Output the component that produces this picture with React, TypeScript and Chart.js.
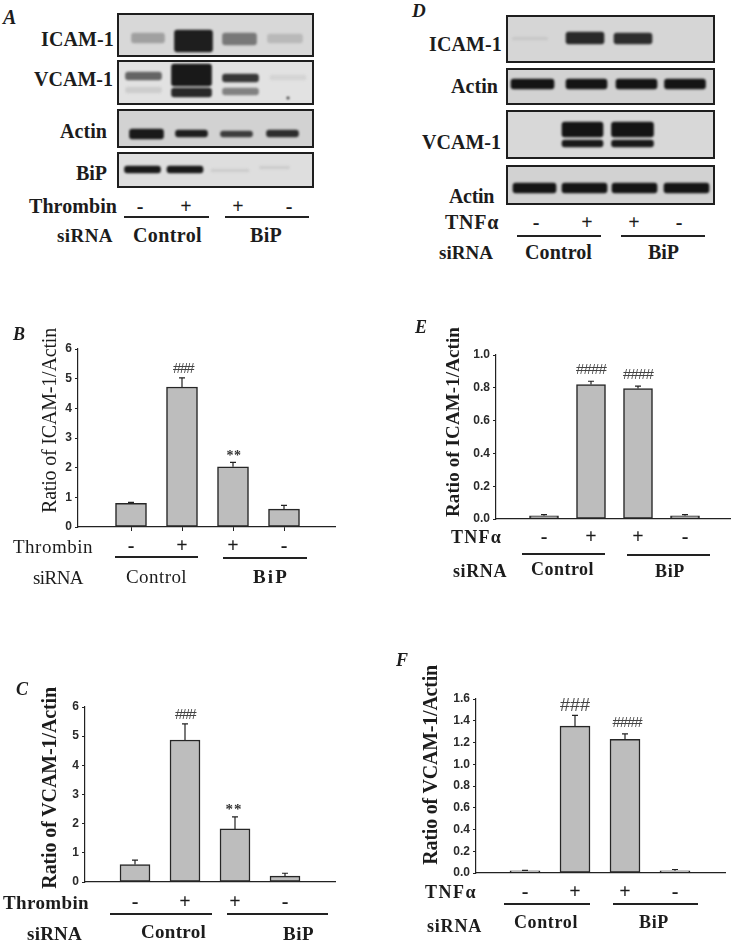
import React, { useEffect, useRef } from "react";
import { Chart, registerables } from "chart.js";

Chart.register(...registerables);

// ---------- bar chart data ----------
const signsThrombin = ["-", "+", "+", "-"];
const signsTnf = ["-", "+", "+", "-"];

const icamThrombin = [0.8, 4.72, 2.03, 0.6];
const icamThrombinTop = [0.83, 5.03, 2.18, 0.73];
const vcamThrombin = [0.6, 4.87, 1.82, 0.2];
const vcamThrombinTop = [0.75, 5.42, 2.23, 0.3];
const icamTnf = [0.02, 0.82, 0.795, 0.02];
const icamTnfTop = [0.027, 0.84, 0.81, 0.027];
const vcamTnf = [0.02, 1.35, 1.23, 0.02];
const vcamTnfTop = [0.024, 1.45, 1.28, 0.032];

// ---------- blot bands: lane, top, bottom, width, grey level ----------
const blotAIcam = [[31, 20, 30, 33, 160], [76.5, 17, 39, 38, 30], [122.5, 20, 32, 34, 120], [168, 21, 30, 35, 185]];
const blotAVcam = [
  [26.5, 12, 20, 36, 100], [26.5, 27, 33, 36, 205], [74.5, 4, 26, 40, 25], [74.5, 28, 37, 40, 40],
  [123.5, 14, 22, 36, 55], [123.5, 28, 35, 36, 130], [171, 15, 20, 36, 212], [171, 37, 39, 2, 30],
];
const blotAActin = [[29.5, 20, 30, 34, 25], [74.5, 21, 28, 32, 30], [119.5, 22, 28, 32, 60], [165.5, 21, 28, 32, 45]];
const blotABip = [[25.5, 14, 21, 36, 25], [68, 14, 21, 36, 25], [113, 17, 20, 38, 205], [157.5, 14, 17, 30, 205]];
const blotDIcam = [[24, 22, 25, 35, 200], [79, 17, 29, 38, 40], [127, 18, 29, 38, 45]];
const blotDActin1 = [[26.5, 11, 21, 43, 20], [80.5, 11, 21, 41, 20], [130.5, 11, 21, 41, 20], [179, 11, 21, 41, 20]];
const blotDVcam = [[76.5, 12, 27, 41, 20], [76.5, 30, 37, 41, 25], [126.5, 12, 27, 42, 20], [126.5, 30, 37, 42, 25]];
const blotDActin2 = [[28.5, 18, 28, 43, 20], [78.5, 18, 28, 45, 20], [128.5, 18, 28, 45, 20], [180.5, 18, 28, 45, 20]];

const measure = document.createElement("canvas").getContext("2d")!;
const SERIF = '"Liberation Serif"';
const SANS = '"Liberation Sans"';

type TextSpec = { s: string; x: number; y: number; w?: number; size?: number; weight?: string; style?: string; fam?: string; color?: string; center?: boolean };

function Txt({ s, x, y, w, size = 19, weight = "bold", style = "normal", fam = SERIF, color = "#1c1c1c", center }: TextSpec) {
  measure.font = `${style} ${weight} ${size}px ${fam}`;
  const natural = measure.measureText(s).width;
  const spacing = w ? (w - natural) / s.length : 0;
  return (
    <span
      style={{
        position: "absolute",
        left: x,
        top: y - size * 0.6,
        lineHeight: `${size * 1.2}px`,
        font: `${style} ${weight} ${size}px ${fam}`,
        letterSpacing: spacing,
        color,
        whiteSpace: "pre",
        transform: center ? "translateX(-50%)" : undefined,
      }}
    >
      {s}
    </span>
  );
}

function VTxt({ s, cx, y1, y2, size, weight }: { s: string; cx: number; y1: number; y2: number; size: number; weight: string }) {
  measure.font = `${weight} ${size}px ${SERIF}`;
  const natural = measure.measureText(s).width;
  const spacing = (y2 - y1 - natural) / s.length;
  return (
    <span
      style={{
        position: "absolute",
        left: cx,
        top: y1,
        font: `${weight} ${size}px ${SERIF}`,
        lineHeight: `${size * 1.2}px`,
        letterSpacing: spacing,
        color: "#1c1c1c",
        whiteSpace: "pre",
        writingMode: "vertical-rl",
        transform: "translateX(-50%) rotate(180deg)",
      }}
    >
      {s}
    </span>
  );
}

function Rule({ x1, x2, y }: { x1: number; x2: number; y: number }) {
  return <div style={{ position: "absolute", left: x1, top: y - 1, width: x2 - x1, height: 1.6, background: "#222" }} />;
}

function Blot({ x, y, w, h, bands, bg }: { x: number; y: number; w: number; h: number; bands: number[][]; bg: string }) {
  const ref = useRef<HTMLCanvasElement>(null);
  useEffect(() => {
    const chart = new Chart(ref.current!, {
      type: "bar",
      data: {
        datasets: bands.map(([lane, top, bottom, width, grey]) => ({
          data: [{ x: lane, y: [top, bottom] }],
          barThickness: width,
          grouped: false,
          backgroundColor: `rgb(${grey},${grey},${grey})`,
          borderWidth: 0,
          borderRadius: 3,
          borderSkipped: false,
        })),
      } as any,
      options: {
        animation: false,
        responsive: false,
        events: [],
        layout: { padding: 0, autoPadding: false },
        plugins: { legend: { display: false }, tooltip: { enabled: false } },
        scales: {
          x: { type: "linear", min: 0, max: w, display: false, offset: false, grid: { offset: false } },
          y: { type: "linear", min: 0, max: h, reverse: true, display: false },
        },
      } as any,
    });
    return () => chart.destroy();
  }, []);
  return (
    <div
      style={{
        position: "absolute",
        left: x,
        top: y,
        width: w,
        height: h,
        boxSizing: "border-box",
        border: "2px solid #1e1e1e",
        background: bg,
        overflow: "hidden",
      }}
    >
      <canvas ref={ref} width={w} height={h} style={{ position: "absolute", left: -2, top: -2, filter: "blur(1.1px)" }} />
    </div>
  );
}

type BarProps = {
  box: [number, number, number, number];
  axisX: number;
  axisEnd: number;
  yTop: number;
  y0: number;
  center0: number;
  spacing: number;
  barW: number;
  values: number[];
  tops: number[];
  signs: string[];
  yMax: number;
  step: number;
  decimals: number;
  marks: boolean;
  signGap: number;
};

function BarPanel(p: BarProps) {
  const ref = useRef<HTMLCanvasElement>(null);
  const [left, top, width, height] = p.box;
  useEffect(() => {
    const errorBars = {
      id: "errorBars",
      afterDatasetsDraw(chart: any) {
        const ctx = chart.ctx;
        const meta = chart.getDatasetMeta(0);
        ctx.save();
        ctx.strokeStyle = "#222";
        ctx.lineWidth = 1.2;
        meta.data.forEach((el: any, i: number) => {
          const yy = chart.scales.y.getPixelForValue(p.tops[i]);
          ctx.beginPath();
          ctx.moveTo(el.x, el.y);
          ctx.lineTo(el.x, yy);
          ctx.moveTo(el.x - 3, yy);
          ctx.lineTo(el.x + 3, yy);
          ctx.stroke();
        });
        ctx.restore();
      },
    };
    const chart = new Chart(ref.current!, {
      type: "bar",
      plugins: [errorBars],
      data: {
        datasets: [
          {
            data: p.values.map((v, i) => ({ x: i, y: v })),
            backgroundColor: "#bdbdbd",
            borderColor: "#262626",
            borderWidth: 1.5,
            borderSkipped: false,
            barThickness: p.barW,
          },
        ],
      } as any,
      options: {
        animation: false,
        responsive: false,
        events: [],
        layout: {
          autoPadding: false,
          padding: { left: 0, top: p.yTop - top, right: left + width - p.axisEnd, bottom: 0 },
        },
        plugins: { legend: { display: false }, tooltip: { enabled: false } },
        scales: {
          x: {
            type: "linear",
            bounds: "data",
            offset: false,
            min: (p.axisX - p.center0) / p.spacing,
            max: (p.axisEnd - p.center0) / p.spacing,
            afterFit: (s: any) => { s.height = top + height - p.y0; },
            afterBuildTicks: (s: any) => { s.ticks = p.signs.map((_, i) => ({ value: i })); },
            grid: { offset: false, drawOnChartArea: false, drawTicks: p.marks, tickLength: 4, color: "#222" },
            border: { color: "#222", width: 1.2 },
            ticks: {
              autoSkip: false,
              maxRotation: 0,
              padding: p.signGap,
              color: "#1c1c1c",
              font: { family: SERIF, size: 20, weight: "bold" },
              callback: (v: any) => p.signs[v] ?? "",
            },
          },
          y: {
            type: "linear",
            min: 0,
            max: p.yMax,
            afterFit: (s: any) => { s.width = p.axisX - left; },
            grid: { drawOnChartArea: false, tickLength: 3, color: "#222" },
            border: { color: "#222", width: 1.2 },
            ticks: {
              stepSize: p.step,
              padding: 3,
              color: "#2a2a2a",
              font: { family: SANS, size: 12, weight: "bold" },
              callback: (v: any) => Number(v).toFixed(p.decimals),
            },
          },
        },
      } as any,
    });
    return () => chart.destroy();
  }, []);
  return <canvas ref={ref} width={width} height={height} style={{ position: "absolute", left, top }} />;
}

const labels: TextSpec[] = [
  // panel letters
  { s: "A", x: 3, y: 18, size: 20, style: "italic" },
  { s: "D", x: 412, y: 11, size: 19, style: "italic" },
  { s: "B", x: 13, y: 335, size: 18, style: "italic" },
  { s: "E", x: 415, y: 328, size: 18, style: "italic" },
  { s: "C", x: 16, y: 690, size: 18, style: "italic" },
  { s: "F", x: 396, y: 661, size: 18, style: "italic" },
  // A
  { s: "ICAM-1", x: 41, y: 40, w: 73, size: 20 },
  { s: "VCAM-1", x: 34, y: 80, w: 79, size: 20 },
  { s: "Actin", x: 60, y: 132, w: 47, size: 20 },
  { s: "BiP", x: 76, y: 174, w: 31, size: 20 },
  { s: "Thrombin", x: 29, y: 207, w: 88, size: 20 },
  { s: "-", x: 140, y: 207, size: 20, center: true },
  { s: "+", x: 186, y: 207, size: 20, center: true },
  { s: "+", x: 238, y: 207, size: 20, center: true },
  { s: "-", x: 289, y: 207, size: 20, center: true },
  { s: "siRNA", x: 57, y: 236, w: 56, size: 19 },
  { s: "Control", x: 133, y: 236, w: 69, size: 20 },
  { s: "BiP", x: 250, y: 236, w: 32, size: 20 },
  // D
  { s: "ICAM-1", x: 429, y: 45, w: 73, size: 20 },
  { s: "Actin", x: 451, y: 87, w: 47, size: 20 },
  { s: "VCAM-1", x: 422, y: 143, w: 79, size: 20 },
  { s: "Actin", x: 449, y: 197, w: 45, size: 20 },
  { s: "TNF\u03b1", x: 445, y: 223, w: 54, size: 20 },
  { s: "-", x: 536, y: 223, size: 20, center: true },
  { s: "+", x: 587, y: 223, size: 20, center: true },
  { s: "+", x: 634, y: 223, size: 20, center: true },
  { s: "-", x: 679, y: 223, size: 20, center: true },
  { s: "siRNA", x: 439, y: 253, w: 54, size: 19 },
  { s: "Control", x: 525, y: 253, w: 67, size: 20 },
  { s: "BiP", x: 648, y: 253, w: 31, size: 20 },
  // B
  { s: "Thrombin", x: 13, y: 547, w: 80, size: 19, weight: "normal" },
  { s: "siRNA", x: 33, y: 578, w: 50, size: 19, weight: "normal" },
  { s: "Control", x: 126, y: 577, w: 61, size: 19, weight: "normal" },
  { s: "BiP", x: 253, y: 577, w: 36, size: 19 },
  // E
  { s: "TNF\u03b1", x: 451, y: 538, w: 51, size: 18 },
  { s: "siRNA", x: 453, y: 572, w: 54, size: 18 },
  { s: "Control", x: 531, y: 570, w: 63, size: 18 },
  { s: "BiP", x: 655, y: 572, w: 30, size: 18 },
  // C
  { s: "Thrombin", x: 3, y: 903, w: 86, size: 19 },
  { s: "siRNA", x: 27, y: 934, w: 55, size: 19 },
  { s: "Control", x: 141, y: 932, w: 65, size: 19 },
  { s: "BiP", x: 283, y: 934, w: 31, size: 19 },
  // F
  { s: "TNF\u03b1", x: 425, y: 893, w: 52, size: 18 },
  { s: "siRNA", x: 427, y: 927, w: 55, size: 18 },
  { s: "Control", x: 514, y: 923, w: 64, size: 18 },
  { s: "BiP", x: 639, y: 923, w: 30, size: 18 },
  // significance marks
  { s: "###", x: 183, y: 368, w: 20, size: 15, weight: "normal", fam: SANS, color: "#444", center: true },
  { s: "**", x: 234, y: 456, w: 15, size: 14, color: "#333", center: true },
  { s: "###", x: 185, y: 714, w: 20, size: 15, weight: "normal", fam: SANS, color: "#444", center: true },
  { s: "**", x: 234, y: 810, w: 17, size: 15, color: "#333", center: true },
  { s: "####", x: 591, y: 369, w: 30, size: 15, weight: "normal", fam: SANS, color: "#444", center: true },
  { s: "####", x: 638, y: 374, w: 30, size: 15, weight: "normal", fam: SANS, color: "#444", center: true },
  { s: "###", x: 575, y: 706, w: 30, size: 18, weight: "normal", fam: SANS, color: "#444", center: true },
  { s: "####", x: 627, y: 722, w: 29, size: 15, weight: "normal", fam: SANS, color: "#444", center: true },
];

const rules = [
  [124, 209, 217], [225, 309, 217],
  [517, 601, 236], [621, 705, 236],
  [115, 198, 557], [223, 307, 558],
  [522, 605, 554], [627, 710, 555],
  [110, 212, 914], [227, 328, 914],
  [504, 590, 904], [613, 698, 904],
];

export default function App() {
  return (
    <div style={{ position: "absolute", left: 0, top: 0, width: 733, height: 942, background: "#fff", overflow: "hidden", filter: "blur(0.5px)" }}>
      <Blot x={117} y={13} w={197} h={44} bands={blotAIcam} bg="#d8d8d8" />
      <Blot x={117} y={60} w={197} h={45} bands={blotAVcam} bg="#e2e2e2" />
      <Blot x={117} y={109} w={197} h={39} bands={blotAActin} bg="#d2d2d2" />
      <Blot x={117} y={152} w={197} h={36} bands={blotABip} bg="#dedede" />
      <Blot x={506} y={15} w={209} h={48} bands={blotDIcam} bg="#d6d6d6" />
      <Blot x={506} y={68} w={209} h={37} bands={blotDActin1} bg="#d2d2d2" />
      <Blot x={506} y={110} w={209} h={49} bands={blotDVcam} bg="#d8d8d8" />
      <Blot x={506} y={165} w={209} h={40} bands={blotDActin2} bg="#d2d2d2" />

      <BarPanel box={[0, 320, 340, 270]} axisX={78} axisEnd={335} yTop={349} y0={527} center0={131} spacing={51} barW={31}
        values={icamThrombin} tops={icamThrombinTop} signs={signsThrombin} yMax={6} step={1} decimals={0} marks={true} signGap={4} />
      <BarPanel box={[0, 670, 340, 272]} axisX={85} axisEnd={335} yTop={707} y0={882} center0={135} spacing={50} barW={30}
        values={vcamThrombin} tops={vcamThrombinTop} signs={signsThrombin} yMax={6} step={1} decimals={0} marks={false} signGap={9} />
      <BarPanel box={[400, 320, 333, 270]} axisX={496} axisEnd={730} yTop={355} y0={519} center0={544} spacing={47} barW={29}
        values={icamTnf} tops={icamTnfTop} signs={signsTnf} yMax={1} step={0.2} decimals={1} marks={false} signGap={7} />
      <BarPanel box={[400, 650, 333, 292]} axisX={476} axisEnd={725} yTop={699} y0={873} center0={525} spacing={50} barW={30}
        values={vcamTnf} tops={vcamTnfTop} signs={signsTnf} yMax={1.6} step={0.2} decimals={1} marks={false} signGap={8} />

      <VTxt s="Ratio of ICAM-1/Actin" cx={49} y1={328} y2={513} size={20} weight="normal" />
      <VTxt s="Ratio of VCAM-1/Actin" cx={49} y1={687} y2={889} size={20} weight="bold" />
      <VTxt s="Ratio of ICAM-1/Actin" cx={453} y1={327} y2={517} size={19} weight="bold" />
      <VTxt s="Ratio of VCAM-1/Actin" cx={430} y1={665} y2={865} size={20} weight="bold" />

      {rules.map(([a, b, y], i) => <Rule key={i} x1={a} x2={b} y={y} />)}
      {labels.map((l, i) => <Txt key={i} {...l} />)}
    </div>
  );
}
